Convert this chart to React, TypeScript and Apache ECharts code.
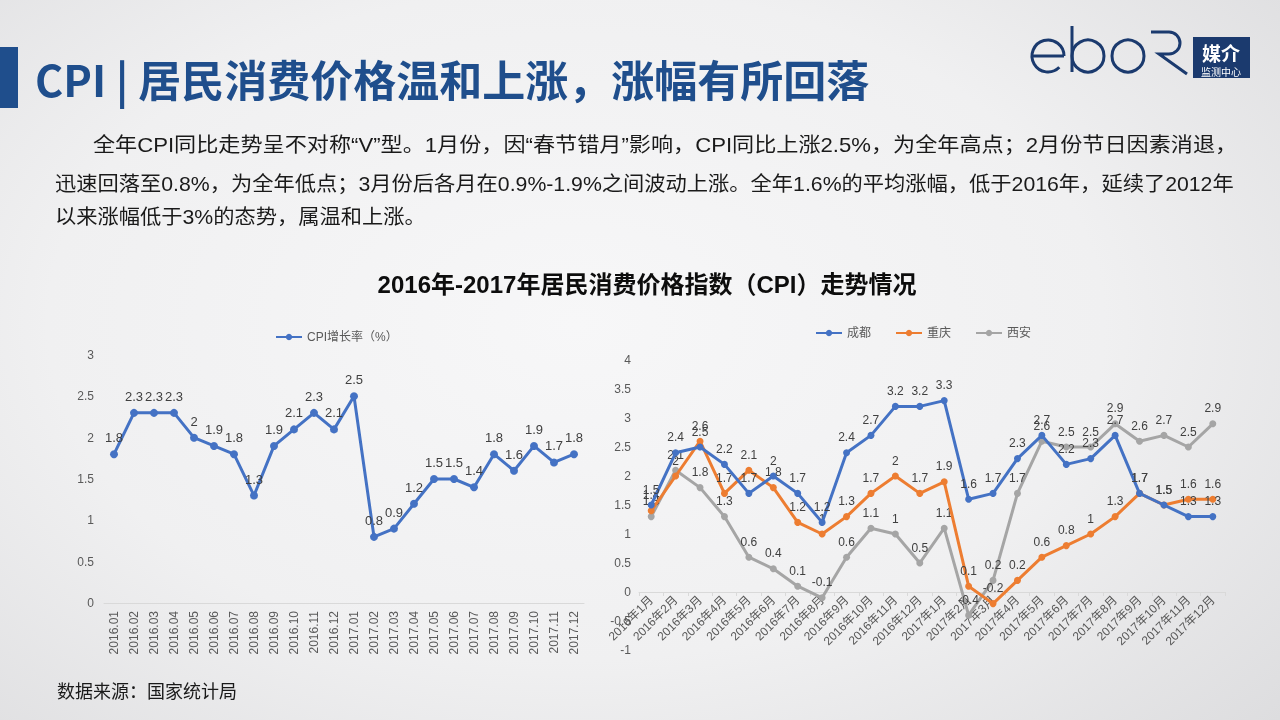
import React, { useEffect, useRef } from "react";
import * as echarts from "echarts";

const leftCategories = [
  "2016.01", "2016.02", "2016.03", "2016.04", "2016.05", "2016.06",
  "2016.07", "2016.08", "2016.09", "2016.10", "2016.11", "2016.12",
  "2017.01", "2017.02", "2017.03", "2017.04", "2017.05", "2017.06",
  "2017.07", "2017.08", "2017.09", "2017.10", "2017.11", "2017.12",
];
const cpiGrowth = [1.8, 2.3, 2.3, 2.3, 2.0, 1.9, 1.8, 1.3, 1.9, 2.1, 2.3, 2.1, 2.5, 0.8, 0.9, 1.2, 1.5, 1.5, 1.4, 1.8, 1.6, 1.9, 1.7, 1.8];

const rightCategories = [
  "2016年1月", "2016年2月", "2016年3月", "2016年4月", "2016年5月", "2016年6月",
  "2016年7月", "2016年8月", "2016年9月", "2016年10月", "2016年11月", "2016年12月",
  "2017年1月", "2017年2月", "2017年3月", "2017年4月", "2017年5月", "2017年6月",
  "2017年7月", "2017年8月", "2017年9月", "2017年10月", "2017年11月", "2017年12月",
];
const chengdu = [1.5, 2.4, 2.5, 2.2, 1.7, 2.0, 1.7, 1.2, 2.4, 2.7, 3.2, 3.2, 3.3, 1.6, 1.7, 2.3, 2.7, 2.2, 2.3, 2.7, 1.7, 1.5, 1.3, 1.3];
const chongqing = [1.4, 2.0, 2.6, 1.7, 2.1, 1.8, 1.2, 1.0, 1.3, 1.7, 2.0, 1.7, 1.9, 0.1, -0.2, 0.2, 0.6, 0.8, 1.0, 1.3, 1.7, 1.5, 1.6, 1.6];
const xian = [1.3, 2.1, 1.8, 1.3, 0.6, 0.4, 0.1, -0.1, 0.6, 1.1, 1.0, 0.5, 1.1, -0.4, 0.2, 1.7, 2.6, 2.5, 2.5, 2.9, 2.6, 2.7, 2.5, 2.9];

const leftSeriesName = "CPI增长率（%）";
const rightSeriesNames = ["成都", "重庆", "西安"];
const seriesColors = ["#4472C4", "#ED7D31", "#A5A5A5"];

const pageTitle = "CPI | 居民消费价格温和上涨，涨幅有所回落";
const paragraph = [
  "全年CPI同比走势呈不对称“V”型。1月份，因“春节错月”影响，CPI同比上涨2.5%，为全年高点；2月份节日因素消退，",
  "迅速回落至0.8%，为全年低点；3月份后各月在0.9%-1.9%之间波动上涨。全年1.6%的平均涨幅，低于2016年，延续了2012年",
  "以来涨幅低于3%的态势，属温和上涨。",
];
const chartTitle = "2016年-2017年居民消费价格指数（CPI）走势情况";
const sourceText = "数据来源：国家统计局";

const FONT = "'Liberation Sans', 'Noto Sans CJK SC', sans-serif";
const CJK = "'Noto Sans CJK SC', sans-serif";
const NAVY = "#1f4e8c";
const LOGO = "#1b3a6e";

function fitScale(text: string, font: string, target: number) {
  try {
    const c = document.createElement("canvas").getContext("2d");
    if (!c) return 1;
    c.font = font;
    const w = c.measureText(text).width;
    if (!w) return 1;
    const s = target / w;
    return Math.max(0.85, Math.min(1.2, s));
  } catch (e) {
    return 1;
  }
}

export default function App() {
  const ref = useRef<HTMLDivElement>(null);
  useEffect(() => {
    if (!ref.current) return;
    echarts.graphic.registerShape(
      "logoR",
      echarts.graphic.extendPath("M0,0 L18,0 A11,11 0 0 1 18,22 L8,22 L36,42", {})
    );
    const chart = echarts.init(ref.current, undefined, { renderer: "svg" });

    const pFont = `20px 'Liberation Sans', 'Noto Sans CJK SC'`;
    const s1 = fitScale(paragraph[0], pFont, 1145);
    const s2 = fitScale(paragraph[1], pFont, 1180);

    const dataLabel = { show: true, position: "top", fontSize: 12, color: "#404040", fontFamily: FONT, distance: 6 };

    const option: any = {
      animation: false,
      backgroundColor: "transparent",
      textStyle: { fontFamily: FONT },
      graphic: [
        { type: "rect", shape: { x: 0, y: 47, width: 18, height: 61 }, style: { fill: NAVY } },
        {
          type: "text", x: 35, y: 78,
          style: { text: pageTitle, font: `bold 43px ${CJK}`, fill: NAVY, verticalAlign: "middle" },
        },
        // logo
        { type: "arc", shape: { cx: 1048, cy: 56, r: 16, startAngle: Math.PI / 4, endAngle: Math.PI * 2, clockwise: true }, style: { stroke: LOGO, lineWidth: 3, fill: "none" } },
        { type: "line", shape: { x1: 1032, y1: 56, x2: 1064, y2: 56 }, style: { stroke: LOGO, lineWidth: 3 } },
        { type: "circle", shape: { cx: 1088, cy: 56, r: 16 }, style: { stroke: LOGO, lineWidth: 3, fill: "none" } },
        { type: "line", shape: { x1: 1072, y1: 26, x2: 1072, y2: 72 }, style: { stroke: LOGO, lineWidth: 3 } },
        { type: "circle", shape: { cx: 1128, cy: 56, r: 16 }, style: { stroke: LOGO, lineWidth: 3, fill: "none" } },
        { type: "logoR", x: 1151, y: 32, style: { stroke: LOGO, lineWidth: 3, fill: "none" } },
        { type: "rect", shape: { x: 1193, y: 37, width: 57, height: 41 }, style: { fill: LOGO } },
        { type: "text", x: 1221, y: 52, style: { text: "媒介", font: `bold 19px ${CJK}`, fill: "#ffffff", align: "center", verticalAlign: "middle" } },
        { type: "text", x: 1221, y: 71, style: { text: "监测中心", font: `10px ${CJK}`, fill: "#ffffff", align: "center", verticalAlign: "middle" } },
        // paragraph
        { type: "text", x: 93, y: 145, scaleX: s1, style: { text: paragraph[0], font: pFont, fill: "#1a1a1a", verticalAlign: "middle" } },
        { type: "text", x: 55, y: 184, scaleX: s2, style: { text: paragraph[1], font: pFont, fill: "#1a1a1a", verticalAlign: "middle" } },
        { type: "text", x: 55, y: 217, scaleX: s2, style: { text: paragraph[2], font: pFont, fill: "#1a1a1a", verticalAlign: "middle" } },
        // chart title
        { type: "text", x: 647, y: 284, style: { text: chartTitle, font: `bold 24px ${FONT}`, fill: "#0d0d0d", align: "center", verticalAlign: "middle" } },
        // source
        { type: "text", x: 57, y: 690, style: { text: sourceText, font: `18px ${CJK}`, fill: "#1a1a1a", verticalAlign: "middle" } },
      ],
      legend: [
        {
          data: [leftSeriesName], left: 270, top: 326, itemWidth: 26, itemHeight: 8,
          textStyle: { fontSize: 12, color: "#595959", fontFamily: FONT },
        },
        {
          data: rightSeriesNames, left: 810, top: 322, itemWidth: 26, itemHeight: 8, itemGap: 24,
          textStyle: { fontSize: 12, color: "#595959", fontFamily: FONT },
        },
      ],
      grid: [
        { left: 104, right: 696, top: 355, bottom: 117, containLabel: false },
        { left: 639, right: 55, top: 360, bottom: 70, containLabel: false },
      ],
      xAxis: [
        {
          type: "category", gridIndex: 0, data: leftCategories, boundaryGap: true,
          axisLine: { lineStyle: { color: "#d9d9d9" } }, axisTick: { show: false },
          axisLabel: { rotate: 90, fontSize: 12, color: "#595959", interval: 0, margin: 8 },
        },
        {
          type: "category", gridIndex: 1, data: rightCategories, boundaryGap: true,
          position: "bottom", offset: -58,
          axisLine: { onZero: false, lineStyle: { color: "#d9d9d9" } },
          axisTick: { show: true, length: 4, lineStyle: { color: "#d9d9d9" } },
          axisLabel: { rotate: 45, fontSize: 12, color: "#595959", interval: 0, margin: 6 },
        },
      ],
      yAxis: [
        {
          type: "value", gridIndex: 0, min: 0, max: 3, interval: 0.5,
          axisLine: { show: false }, axisTick: { show: false }, splitLine: { show: false },
          axisLabel: { fontSize: 12, color: "#595959", margin: 10 },
        },
        {
          type: "value", gridIndex: 1, min: -1, max: 4, interval: 0.5,
          axisLine: { show: false }, axisTick: { show: false }, splitLine: { show: false },
          axisLabel: { fontSize: 12, color: "#595959", margin: 8 },
        },
      ],
      series: [
        {
          name: leftSeriesName, type: "line", xAxisIndex: 0, yAxisIndex: 0, data: cpiGrowth,
          color: seriesColors[0], lineStyle: { width: 3 }, symbol: "circle", symbolSize: 8,
          label: { ...dataLabel, fontSize: 13 },
        },
        ...rightSeriesNames.map((n, i) => ({
          name: n, type: "line", xAxisIndex: 1, yAxisIndex: 1, data: [chengdu, chongqing, xian][i],
          color: seriesColors[i], lineStyle: { width: 3 }, symbol: "circle", symbolSize: 7,
          label: dataLabel, z: 3 - i,
        })),
      ],
    };
    chart.setOption(option);
    return () => chart.dispose();
  }, []);
  return (
    <div
      style={{
        position: "fixed", left: 0, top: 0, width: 1280, height: 720,
        background: "radial-gradient(ellipse 75% 85% at 45% 45%, #f7f7f8 0%, #f0f0f1 55%, #dcdcde 100%)",
      }}
    >
      <div ref={ref} style={{ width: 1280, height: 720 }} />
    </div>
  );
}
